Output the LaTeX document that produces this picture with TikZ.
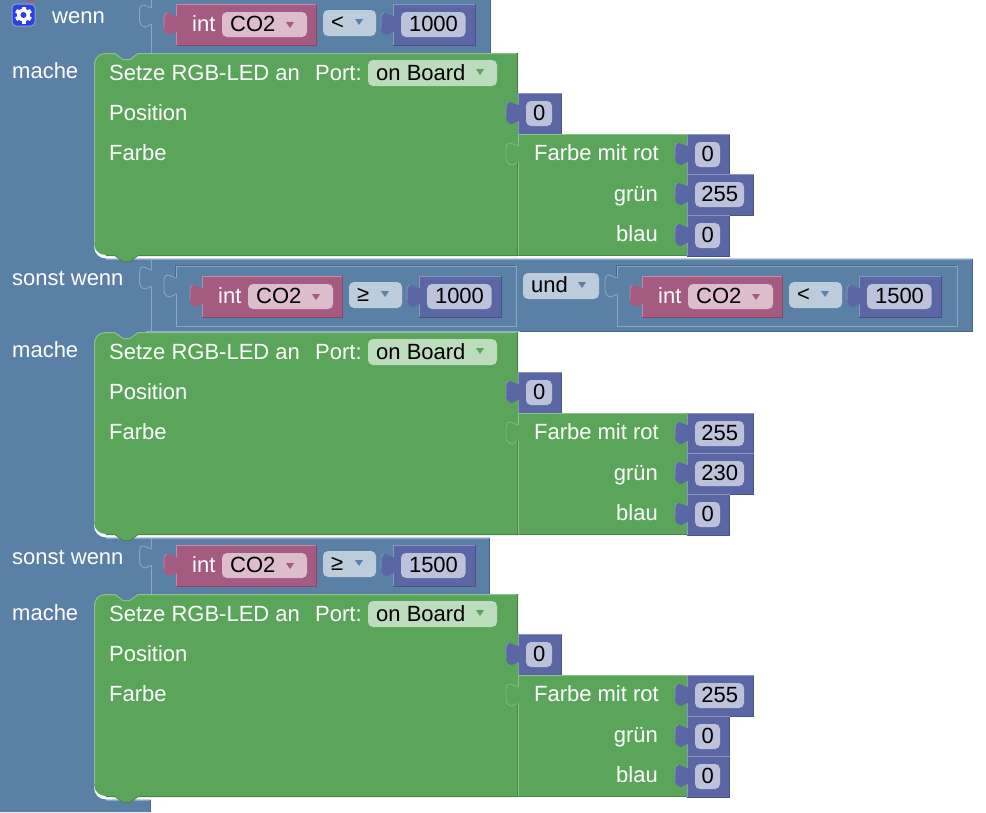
\documentclass[tikz,border=0pt]{standalone}
\usepackage{fontspec}
\setmainfont{Liberation Sans}
\definecolor{bluec}{HTML}{5B80A5}
\definecolor{bluel}{HTML}{8CA6C0}
\definecolor{blued}{HTML}{496684}
\definecolor{bluef}{HTML}{BDCCDB}
\definecolor{greenc}{HTML}{5BA55B}
\definecolor{greenl}{HTML}{8CC08C}
\definecolor{greend}{HTML}{498449}
\definecolor{greenf}{HTML}{BDDBBD}
\definecolor{mathc}{HTML}{5B67A5}
\definecolor{mathl}{HTML}{8C95C0}
\definecolor{mathd}{HTML}{495284}
\definecolor{mathf}{HTML}{BDC2DB}
\definecolor{varc}{HTML}{A55B80}
\definecolor{varl}{HTML}{C08CA6}
\definecolor{vard}{HTML}{844966}
\definecolor{varf}{HTML}{DBBDCC}
\definecolor{iconc}{HTML}{2F3FE8}
\tikzset{
  lbl/.style={inner sep=0pt,anchor=base west,text=white,font=\fontsize{22}{24}\selectfont},
  lblr/.style={lbl,anchor=base east},
  fldtxt/.style={inner sep=0pt,anchor=base west,text=black,font=\fontsize{22}{24}\selectfont},
  fldtxtc/.style={fldtxt,anchor=base},
  fld/.style={rounded corners=5pt},
  hi/.style={line width=1pt}
}
% tab outline, local origin at the top of the block side
\newcommand{\tabpath}{(0,12) .. controls (-3,12) and (-5,9) .. (-9,9) .. controls (-11,9) and (-12,12) .. (-12,16) -- (-12,24) .. controls (-12,28) and (-9,31) .. (-6,31) .. controls (-3,31) and (-3,28) .. (0,28)}
% value block: name, x, y, width, height, colour prefix
\newcommand{\vblock}[6]{%
  \begin{scope}[shift={(#2,#3)}]
    \fill[#6c] \tabpath -- cycle;
    \draw[#6l,line width=.7pt] (-12,24) -- (-12,16) .. controls (-12,12) and (-11,9) .. (-9,9);
    \fill[#6c] (0,0) rectangle (#4,#5);
    \draw[#6d,hi] (#4,0) -- (#4,#5) -- (0,#5);
    \draw[#6l,hi] (0,#5) -- (0,28) (0,12) -- (0,0) -- (#4,0);
  \end{scope}}
% number value block: name, x, y, width, text
\newcommand{\numblock}[5]{%
  \vblock{#1}{#2}{#3}{#4}{41}{math}%
  \fill[mathf,fld] (#2+8,#3+8) rectangle (#2+#4-9.5,#3+33);
  \node[fldtxtc] (#1) at (#2+#4/2-.5,#3+27.5) {#5};}
% int CO2 block: name, x, y
\newcommand{\varblock}[3]{%
  \vblock{#1}{#2}{#3}{140}{41}{var}%
  \node[lbl] (#1i) at (#2+16,#3+27.5) {int};
  \fill[varf,fld] (#2+46,#3+8) rectangle (#2+131,#3+33);
  \node[fldtxt] (#1f) at (#2+54,#3+27.5) {CO2};
  \fill[varc] (#2+110,#3+18) -- (#2+118,#3+18) -- (#2+114,#3+24) -- cycle;}
% dropdown on the logic colour: name, x, y, width, text
\newcommand{\opfield}[5]{%
  \fill[bluef,fld] (#2,#3) rectangle (#2+#4,#3+26);
  \node[fldtxt] (#1) at (#2+8,#3+19.5) {#5};
  \fill[bluec] (#2+#4-21,#3+9) -- (#2+#4-13,#3+9) -- (#2+#4-17,#3+15) -- cycle;}
% socket outline
\newcommand{\socket}[3]{%
  \begin{scope}[shift={(#1,#2)}]
    \draw[#3,line width=.9pt] \tabpath;
  \end{scope}}
% inner inline box, open at the socket
\newcommand{\inbox}[4]{%
  \draw[blued,line width=.8pt] (#1-.8,#2+12) -- (#1-.8,#2-.8) -- (#3-.8,#2-.8);
  \draw[bluel,line width=1pt] (#1,#2+12) -- (#1,#2) -- (#3,#2) -- (#3,#4) -- (#1,#4) -- (#1,#2+28);}
% comparison row: suffix, x, y, operator, number, operator offset
\newcommand{\cmprow}[6]{%
  \varblock{v#1}{#2}{#3}
  \opfield{o#1}{#2+147}{#3+#6}{53}{#4}
  \numblock{n#1}{#2+217}{#3}{82}{#5}}
% green statement block: suffix, y offset, r, g, b value blocks
\newcommand{\rgb}[5]{%
  \begin{scope}[shift={(0,#2)}]
    \fill[bluec] (94,50) rectangle (146,62);
    \fill[greenc] (94,65) .. controls (94,58) and (99,53) .. (106,53) -- (115,53) -- (123,59) -- (130,59) -- (138,53)
      -- (518,53) -- (518,255) -- (138,255) -- (130,261) -- (123,261) -- (115,255) -- (106,255)
      .. controls (99,255) and (94,250) .. (94,243) -- cycle;
    \draw[greend,line width=1pt] (106,255.5) -- (115,255.5) -- (123,261.5) -- (130,261.5) -- (138,255.5) -- (518,255.5);
    \draw[greenl,line width=1pt] (94.5,243) -- (94.5,65) .. controls (94.5,58) and (99,53.5) .. (106,53.5) -- (115,53.5) -- (123,59.5) -- (130,59.5) -- (138,53.5) -- (516,53.5);
    \draw[greend,line width=1pt] (517.5,53) -- (517.5,93);
    \node[lbl] (set#1) at (109,80) {Setze RGB-LED an};
    \node[lbl] (port#1) at (315,80) {Port:};
    \fill[greenf,fld] (368,60) rectangle (497,86);
    \node[fldtxt] (brd#1) at (376,80) {on Board};
    \fill[greenc] (476,69) -- (484,69) -- (480,75) -- cycle;
    \node[lbl] (pos#1) at (109,120) {Position};
    \node[lbl] (far#1) at (109,160.5) {Farbe};
    \numblock{p#1}{518}{93}{43.5}{0}
    % colour block
    \fill[greenc] (518,134) rectangle (687,255);
    \socket{518}{134}{greenl!70!greenc}
    \draw[greenl,line width=1pt] (518.5,255) -- (518.5,162) (518.5,146) -- (518.5,134.5) -- (687,134.5);
    \draw[greend,line width=1pt] (518,255.5) -- (687,255.5);
    \draw[greend,line width=.8pt] (517.4,162) -- (517.4,255);
    \node[lblr] (fr#1) at (659,160.5) {Farbe mit rot};
    \node[lblr] (fg#1) at (658,201) {grün};
    \node[lblr] (fb#1) at (658,241) {blau};
    #3
    #4
    #5
  \end{scope}}
\newcommand{\cval}[4]{\numblock{#1}{687}{#2}{#3}{#4}}
\begin{document}
\begin{tikzpicture}[x=1pt,y=-1pt]
\useasboundingbox (0,0) rectangle (986,812);
\clip (0,0) rectangle (986,812);
\fill[white] (0,0) rectangle (986,812);
% C-shaped logic block
\fill[bluec] (0,-3) -- (490.5,-3) -- (490.5,53) -- (94,53) -- (94,246.5) .. controls (94,253.5) and (99,258.5) .. (106,258.5)
  -- (972.5,258.5) -- (972.5,331.5) -- (94,331.5) -- (94,525.5) .. controls (94,532.5) and (99,537.5) .. (106,537.5)
  -- (489.5,537.5) -- (489.5,594) -- (94,594) -- (94,787.5) .. controls (94,794.5) and (99,799.5) .. (106,799.5)
  -- (150.5,799.5) -- (150.5,812) -- (0,812) -- cycle;
\draw[bluel,line width=1pt] (106,259) -- (972,259) (106,538) -- (489,538) (106,800) -- (150,800);
\draw[blued,line width=1pt] (490.5,0) -- (490.5,53) (972.5,259) -- (972.5,331.5) -- (520,331.5) (489.5,538) -- (489.5,594) (150.5,800) -- (150.5,812);
% vertical separators and sockets
\draw[bluel,line width=1pt] (151.5,0) -- (151.5,8) (151.5,24) -- (151.5,53) (151.5,259) -- (151.5,270) (151.5,286) -- (151.5,331) (151.5,538) -- (151.5,549) (151.5,565) -- (151.5,594);
\socket{151.5}{-4}{bluel}
\socket{151.5}{258}{bluel}
\socket{151.5}{537}{bluel}
% icon
\fill[varc] (27,0) rectangle (35,1.5);
\fill[iconc,draw=bluel,line width=1pt,rounded corners=4pt] (12,4) rectangle (35,26);
\fill[white] (23.5,15) circle[radius=6.5];
\foreach \a in {0,60,...,300}{\fill[white,rotate around={\a:(23.5,15)}] (21.5,6.5) rectangle (25.5,11);}
\fill[iconc] (23.5,15) circle[radius=3];
% labels
\node[lbl] (wenn) at (52,23) {wenn};
\node[lbl] (mache1) at (12,78) {mache};
\node[lbl] (sonst1) at (12,285) {sonst wenn};
\node[lbl] (mache2) at (12,357) {mache};
\node[lbl] (sonst2) at (12,564) {sonst wenn};
\node[lbl] (mache3) at (12,620) {mache};
% first condition
\cmprow{a}{176}{4}{<}{1000}{6}
% second condition
\inbox{176}{266}{516}{326}
\socket{176}{266}{bluel}
\cmprow{b}{202}{276}{≥}{1000}{6}
\opfield{und}{523}{273}{76}{und}
\inbox{617}{266}{957}{326}
\socket{617}{266}{bluel}
\cmprow{c}{642}{276}{<}{1500}{6}
% third condition
\cmprow{d}{176}{545}{≥}{1500}{6}
% statements
\rgb{A}{0}{\cval{ra}{134}{42.5}{0}}{\cval{ga}{174}{66.5}{255}}{\cval{ba}{215}{42.5}{0}}
\rgb{B}{279}{\cval{rb}{134}{66.5}{255}}{\cval{gb}{174}{66.5}{230}}{\cval{bb}{215}{42.5}{0}}
\rgb{C}{541}{\cval{rc}{134}{66.5}{255}}{\cval{gc}{175}{42.5}{0}}{\cval{bc}{215}{42.5}{0}}
\end{tikzpicture}
\end{document}
